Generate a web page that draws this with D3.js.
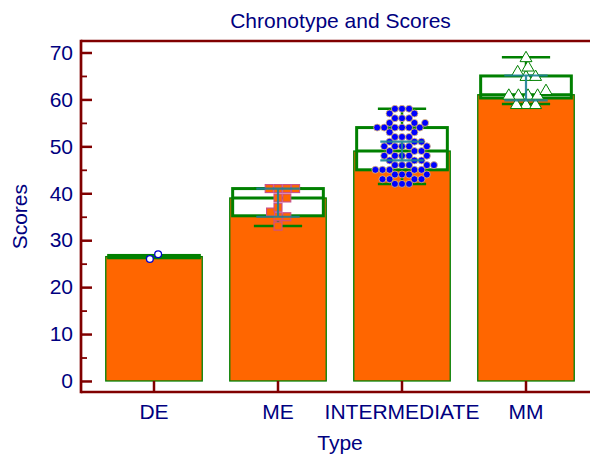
<!DOCTYPE html>
<html>
<head>
<meta charset="utf-8">
<script src="https://cdn.jsdelivr.net/npm/d3@7"></script>
<style>
  html, body { margin: 0; padding: 0; background: #fff; }
  svg { display: block; }
</style>
</head>
<body>
<svg id="chart" width="590" height="454"></svg>
<script>
// ---------------- data ----------------
const categories = ["DE", "ME", "INTERMEDIATE", "MM"];
const barValues  = [26.5, 39, 49, 61];          // bar heights (median)
const boxQ1      = [26.25, 35.2, 45, 60.3];
const boxMedian  = [26.5, 39, 49, 61];
const boxQ3      = [26.75, 41, 54, 65];
const whiskerLow = [null, 33, 42, 59];
const whiskerHigh= [null, 41, 58, 69];
const errLow     = [null, 35, 47, 59.8];         // teal error bars
const errHigh    = [null, 41, 51, 65.1];

const scoresDE = [26, 27];
const scoresME = [41, 41, 41, 41, 39, 39, 37, 36, 35, 35, 33];
const scoresINT = [
  58, 58, 58, 57, 57, 56, 56, 56, 55, 55, 55,
  54, 54, 54, 54, 54, 54, 53, 53, 52, 52, 52, 51, 51, 51,
  50, 50, 50, 50, 50, 49, 49, 49, 48, 48, 48, 48, 48,
  47, 47, 47, 46, 46, 46, 46, 46, 45, 45, 45, 45, 45,
  44, 44, 44, 44, 43, 43, 43, 43, 42, 42, 42
];
const scoresMM = [69, 67, 66, 65, 65, 62, 61, 61, 61, 61, 59, 59, 59];

const yTicks = [0, 10, 20, 30, 40, 50, 60, 70];
const yMinorTicks = [5, 15, 25, 35, 45, 55, 65];

const title = "Chronotype and Scores";
const xTitle = "Type";
const yTitle = "Scores";

// ---------------- styles ----------------
const NAVY = "#000080", AXIS = "#800000", GREEN = "#008000",
      ORANGE = "#FF6600", TEAL = "#1c8296";
const FONT = "'Liberation Sans', Arial, sans-serif";

// ---------------- layout ----------------
const svg = d3.select("#chart");
const frame = { left: 81, right: 590, top: 41, bottom: 392 };

const x = d3.scaleBand()
  .domain(categories)
  .range([92, 588])
  .paddingInner(0.222)
  .paddingOuter(0.111);

const y = d3.scaleLinear()
  .domain([-2.35, 72.45])
  .range([frame.bottom, frame.top]);

const bw = x.bandwidth();
const cx = c => x(c) + bw / 2;

// ---------------- bars ----------------
svg.append("g").selectAll("rect")
  .data(categories)
  .join("rect")
  .attr("x", c => x(c))
  .attr("width", bw)
  .attr("y", (c, i) => y(barValues[i]))
  .attr("height", (c, i) => y(0) - y(barValues[i]))
  .attr("fill", ORANGE)
  .attr("stroke", GREEN)
  .attr("stroke-width", 1.3);

// ---------------- box plots ----------------
const boxW = bw * 0.94;
const capW = bw * 0.5;
const gBox = svg.append("g");
categories.forEach((c, i) => {
  const xc = cx(c);
  if (whiskerHigh[i] != null) {
    gBox.append("line").attr("x1", xc).attr("x2", xc)
      .attr("y1", y(boxQ3[i])).attr("y2", y(whiskerHigh[i]))
      .attr("stroke", GREEN).attr("stroke-width", 2.5);
    gBox.append("line").attr("x1", xc - capW / 2).attr("x2", xc + capW / 2)
      .attr("y1", y(whiskerHigh[i])).attr("y2", y(whiskerHigh[i]))
      .attr("stroke", GREEN).attr("stroke-width", 2.5);
  }
  if (whiskerLow[i] != null) {
    gBox.append("line").attr("x1", xc).attr("x2", xc)
      .attr("y1", y(boxQ1[i])).attr("y2", y(whiskerLow[i]))
      .attr("stroke", GREEN).attr("stroke-width", 2.5);
    gBox.append("line").attr("x1", xc - capW / 2).attr("x2", xc + capW / 2)
      .attr("y1", y(whiskerLow[i])).attr("y2", y(whiskerLow[i]))
      .attr("stroke", GREEN).attr("stroke-width", 2.5);
  }
  gBox.append("rect")
    .attr("x", xc - boxW / 2).attr("width", boxW)
    .attr("y", y(boxQ3[i])).attr("height", y(boxQ1[i]) - y(boxQ3[i]))
    .attr("fill", "#fff").attr("stroke", GREEN).attr("stroke-width", 3);
  gBox.append("line")
    .attr("x1", xc - boxW / 2).attr("x2", xc + boxW / 2)
    .attr("y1", y(boxMedian[i])).attr("y2", y(boxMedian[i]))
    .attr("stroke", GREEN).attr("stroke-width", 3);
});

// ---------------- beeswarm points ----------------
function swarm(values, d, recenter) {
  const placed = [];
  const sorted = values.slice().sort((a, b) => a - b);
  sorted.forEach(v => {
    const py = y(v);
    const cand = [0];
    placed.forEach(p => {
      const dy = Math.abs(p.y - py);
      if (dy < d) {
        const dx = Math.sqrt(d * d - dy * dy);
        cand.push(p.x + dx, p.x - dx);
      }
    });
    const ok = cand.filter(cx0 => placed.every(p =>
      Math.hypot(p.x - cx0, p.y - py) >= d - 1e-6));
    ok.sort((a, b) => Math.abs(a) - Math.abs(b) || b - a);
    placed.push({ v, x: ok[0], y: py });
  });
  if (recenter) {
    const m = d3.mean(placed, p => p.x);
    placed.forEach(p => { p.x -= m; });
  }
  return placed;
}

const gPts = svg.append("g");
// DE: white circles
gPts.selectAll(".de").data(swarm(scoresDE, 9.5, true)).join("circle")
  .attr("cx", p => cx("DE") + p.x).attr("cy", p => p.y).attr("r", 3.4)
  .attr("fill", "#fff").attr("stroke", "#0000CC").attr("stroke-width", 1.3);
// ME: orange squares
gPts.selectAll(".me").data(swarm(scoresME, 8.8, false)).join("rect")
  .attr("x", p => cx("ME") + p.x - 4).attr("y", p => p.y - 4)
  .attr("width", 8).attr("height", 8)
  .attr("fill", ORANGE).attr("stroke", "#c8508c").attr("stroke-width", 1.1);
// INTERMEDIATE: blue dots
gPts.selectAll(".int").data(swarm(scoresINT, 7.1, false)).join("circle")
  .attr("cx", p => cx("INTERMEDIATE") + p.x).attr("cy", p => p.y).attr("r", 3.5)
  .attr("fill", "#0000FF").attr("stroke", "#e8c070").attr("stroke-width", 0.8);
// MM: white triangles
const tri = d3.symbol().type(d3.symbolTriangle).size(62);
gPts.selectAll(".mm").data(swarm(scoresMM, 9.6, false)).join("path")
  .attr("d", tri)
  .attr("transform", p => `translate(${cx("MM") + p.x},${p.y + 1})`)
  .attr("fill", "#fff").attr("stroke", GREEN).attr("stroke-width", 1);

// ---------------- teal error bars (drawn over points) ----------------
const errCap = bw * 0.45;
const gErr = svg.append("g").attr("opacity", 0.9);
categories.forEach((c, i) => {
  if (errLow[i] == null) return;
  const xc = cx(c);
  gErr.append("line").attr("x1", xc).attr("x2", xc)
    .attr("y1", y(errLow[i])).attr("y2", y(errHigh[i]))
    .attr("stroke", TEAL).attr("stroke-width", 2.2);
  [errLow[i], errHigh[i]].forEach(v => {
    gErr.append("line").attr("x1", xc - errCap / 2).attr("x2", xc + errCap / 2)
      .attr("y1", y(v)).attr("y2", y(v))
      .attr("stroke", TEAL).attr("stroke-width", 2.2);
  });
});

// ---------------- axes ----------------
const yAxis = d3.axisLeft(y).tickValues(yTicks).tickSizeInner(-11)
  .tickSizeOuter(0).tickPadding(8);
const gy = svg.append("g").attr("transform", `translate(${frame.left},0)`).call(yAxis);
gy.select(".domain").remove();
gy.selectAll(".tick line").attr("stroke", AXIS).attr("stroke-width", 2.5);
gy.selectAll(".tick text").attr("fill", NAVY)
  .style("font-family", FONT).style("font-size", "21px");

const yMinor = d3.axisLeft(y).tickValues(yMinorTicks).tickSizeInner(-6)
  .tickSizeOuter(0).tickFormat("");
const gym = svg.append("g").attr("transform", `translate(${frame.left},0)`).call(yMinor);
gym.select(".domain").remove();
gym.selectAll(".tick line").attr("stroke", AXIS).attr("stroke-width", 1.8);

const xAxis = d3.axisBottom(x).tickSizeInner(-11).tickSizeOuter(0).tickPadding(12);
const gx = svg.append("g").attr("transform", `translate(0,${frame.bottom})`).call(xAxis);
gx.select(".domain").remove();
gx.selectAll(".tick line").attr("stroke", AXIS).attr("stroke-width", 2.5);
gx.selectAll(".tick text").attr("fill", NAVY)
  .style("font-family", FONT).style("font-size", "21px");

// frame lines
const gF = svg.append("g").attr("stroke", AXIS).attr("stroke-width", 2.7);
gF.append("line").attr("x1", frame.left).attr("x2", frame.right)
  .attr("y1", frame.top).attr("y2", frame.top);
gF.append("line").attr("x1", frame.left).attr("x2", frame.right)
  .attr("y1", frame.bottom).attr("y2", frame.bottom);
gF.append("line").attr("x1", frame.left).attr("x2", frame.left)
  .attr("y1", frame.top - 1.35).attr("y2", frame.bottom + 1.35);

// ---------------- titles ----------------
svg.append("text").attr("x", 340.5).attr("y", 28.3)
  .attr("text-anchor", "middle").attr("fill", NAVY)
  .style("font-family", FONT).style("font-size", "21px").text(title);
svg.append("text").attr("x", 340).attr("y", 450)
  .attr("text-anchor", "middle").attr("fill", NAVY)
  .style("font-family", FONT).style("font-size", "21px").text(xTitle);
svg.append("text").attr("transform", "translate(27,216.7) rotate(-90)")
  .attr("text-anchor", "middle").attr("fill", NAVY)
  .style("font-family", FONT).style("font-size", "21px").text(yTitle);
</script>
</body>
</html>
